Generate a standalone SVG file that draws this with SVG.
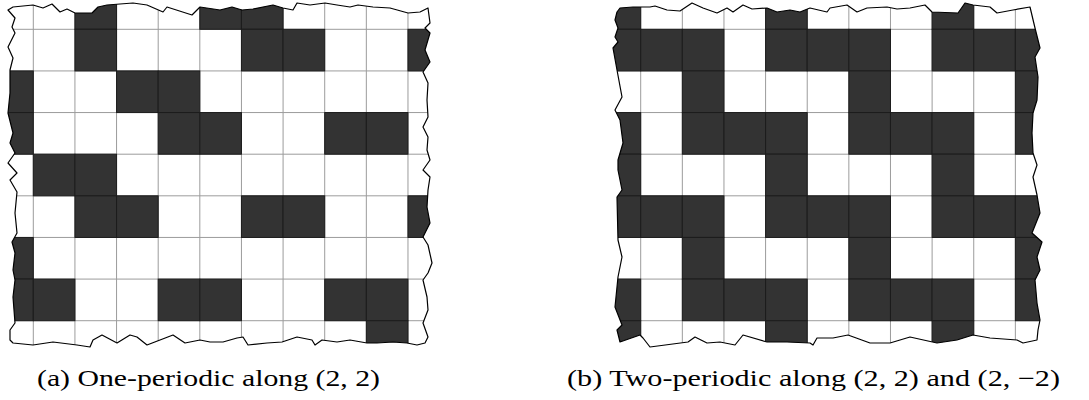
<svg xmlns="http://www.w3.org/2000/svg" xmlns:xlink="http://www.w3.org/1999/xlink" width="1089" height="400" viewBox="0 0 1089 400">
<style>
.d{fill:#333333;stroke:#1c1c1c;stroke-width:1}
.gl{fill:none;stroke:#9c9c9c;stroke-width:1}
.edge{fill:none;stroke:#000;stroke-width:1.2;stroke-linejoin:round}
</style>
<defs>
<path id="gridlines" d="M0,-45V335M41.63,-45V335M83.26,-45V335M124.89,-45V335M166.52,-45V335M208.15,-45V335M249.78,-45V335M291.41,-45V335M333.04,-45V335M374.67,-45V335M-45,0H420M-45,41.63H420M-45,83.26H420M-45,124.89H420M-45,166.52H420M-45,208.15H420M-45,249.78H420M-45,291.41H420"/>
<clipPath id="clipA"><polygon id="shapeA" points="8,10 13,7 33,5 43,8 52,4 60,12 67,9 75,13 92,13 98,7 107,5 133,3 147,5 163,12 167,7 192,15 200,7 220,10 232,7 242,10 253,9 273,5 283,8 293,10 297,3 310,5 325,3 337,5 350,7 358,5 373,7 390,8 408,13 420,12 428,8 430,23 425,28 430,33 425,50 430,62 423,72 428,83 427,100 428,117 423,127 428,137 427,150 430,160 423,170 430,177 428,190 427,207 430,223 423,237 428,245 432,263 428,273 423,280 427,297 428,310 423,323 428,337 425,343 417,345 407,343 393,342 377,343 367,343 350,340 337,342 322,340 315,345 312,340 297,337 282,342 267,343 248,345 243,337 237,338 223,342 210,342 200,340 185,343 173,335 160,340 147,345 137,337 130,335 117,343 102,335 93,340 90,347 77,345 53,342 33,345 13,343 10,340 10,330 15,323 14,310 13,297 15,280 13,270 15,253 12,242 17,233 15,213 17,192 10,180 17,173 8,163 15,153 10,143 13,133 8,113 10,93 10,70 13,58 8,47 15,33 12,27 15,18"/></clipPath>
<clipPath id="clipB"><polygon id="shapeB" points="617,12 620,8 633,7 650,7 655,6 667,10 680,11 692,3 703,8 717,13 727,8 733,12 743,5 752,9 767,8 777,12 790,10 800,12 810,8 827,12 830,8 847,5 857,12 867,8 887,7 897,9 910,8 925,5 932,12 958,13 965,3 973,5 990,7 997,13 1013,10 1030,7 1035,28 1040,48 1035,57 1038,77 1037,100 1033,113 1032,133 1033,153 1037,165 1033,177 1037,195 1040,213 1032,233 1042,242 1037,257 1040,270 1035,280 1037,303 1040,320 1038,330 1037,340 1023,343 1017,340 990,338 973,335 957,340 937,343 910,337 890,343 870,343 848,335 833,338 817,338 813,345 810,343 787,342 767,342 743,335 735,345 720,342 707,343 695,337 688,342 650,347 643,338 640,335 620,342 617,330 622,325 615,307 618,277 622,257 618,240 617,197 622,190 618,170 618,160 623,143 620,120 615,110 622,97 617,70 613,48 618,42 615,37 618,28 615,20"/></clipPath>
</defs>
<rect width="1089" height="400" fill="#fff"/>

<g id="grid-a">
<g clip-path="url(#clipA)">
<g transform="translate(33.3 29.3)">
<use xlink:href="#gridlines" href="#gridlines" class="gl"/>
<rect class="d" x="41.63" y="-41.63" width="41.63" height="41.63"/>
<rect class="d" x="166.52" y="-41.63" width="41.63" height="41.63"/>
<rect class="d" x="208.15" y="-41.63" width="41.63" height="41.63"/>
<rect class="d" x="41.63" y="0" width="41.63" height="41.63"/>
<rect class="d" x="208.15" y="0" width="41.63" height="41.63"/>
<rect class="d" x="249.78" y="0" width="41.63" height="41.63"/>
<rect class="d" x="374.67" y="0" width="41.63" height="41.63"/>
<rect class="d" x="-41.63" y="41.63" width="41.63" height="41.63"/>
<rect class="d" x="83.26" y="41.63" width="41.63" height="41.63"/>
<rect class="d" x="124.89" y="41.63" width="41.63" height="41.63"/>
<rect class="d" x="-41.63" y="83.26" width="41.63" height="41.63"/>
<rect class="d" x="124.89" y="83.26" width="41.63" height="41.63"/>
<rect class="d" x="166.52" y="83.26" width="41.63" height="41.63"/>
<rect class="d" x="291.41" y="83.26" width="41.63" height="41.63"/>
<rect class="d" x="333.04" y="83.26" width="41.63" height="41.63"/>
<rect class="d" x="0" y="124.89" width="41.63" height="41.63"/>
<rect class="d" x="41.63" y="124.89" width="41.63" height="41.63"/>
<rect class="d" x="41.63" y="166.52" width="41.63" height="41.63"/>
<rect class="d" x="83.26" y="166.52" width="41.63" height="41.63"/>
<rect class="d" x="208.15" y="166.52" width="41.63" height="41.63"/>
<rect class="d" x="249.78" y="166.52" width="41.63" height="41.63"/>
<rect class="d" x="374.67" y="166.52" width="41.63" height="41.63"/>
<rect class="d" x="-41.63" y="208.15" width="41.63" height="41.63"/>
<rect class="d" x="-41.63" y="249.78" width="41.63" height="41.63"/>
<rect class="d" x="0" y="249.78" width="41.63" height="41.63"/>
<rect class="d" x="124.89" y="249.78" width="41.63" height="41.63"/>
<rect class="d" x="166.52" y="249.78" width="41.63" height="41.63"/>
<rect class="d" x="291.41" y="249.78" width="41.63" height="41.63"/>
<rect class="d" x="333.04" y="249.78" width="41.63" height="41.63"/>
<rect class="d" x="333.04" y="291.41" width="41.63" height="41.63"/>
</g>
</g>
<use xlink:href="#shapeA" href="#shapeA" class="edge"/>
</g>

<g id="grid-b">
<g clip-path="url(#clipB)">
<g transform="translate(640.7 29.3)">
<use xlink:href="#gridlines" href="#gridlines" class="gl"/>
<rect class="d" x="-41.63" y="-41.63" width="41.63" height="41.63"/>
<rect class="d" x="124.89" y="-41.63" width="41.63" height="41.63"/>
<rect class="d" x="291.41" y="-41.63" width="41.63" height="41.63"/>
<rect class="d" x="-41.63" y="0" width="41.63" height="41.63"/>
<rect class="d" x="0" y="0" width="41.63" height="41.63"/>
<rect class="d" x="41.63" y="0" width="41.63" height="41.63"/>
<rect class="d" x="124.89" y="0" width="41.63" height="41.63"/>
<rect class="d" x="166.52" y="0" width="41.63" height="41.63"/>
<rect class="d" x="208.15" y="0" width="41.63" height="41.63"/>
<rect class="d" x="291.41" y="0" width="41.63" height="41.63"/>
<rect class="d" x="333.04" y="0" width="41.63" height="41.63"/>
<rect class="d" x="374.67" y="0" width="41.63" height="41.63"/>
<rect class="d" x="41.63" y="41.63" width="41.63" height="41.63"/>
<rect class="d" x="208.15" y="41.63" width="41.63" height="41.63"/>
<rect class="d" x="374.67" y="41.63" width="41.63" height="41.63"/>
<rect class="d" x="-41.63" y="83.26" width="41.63" height="41.63"/>
<rect class="d" x="41.63" y="83.26" width="41.63" height="41.63"/>
<rect class="d" x="83.26" y="83.26" width="41.63" height="41.63"/>
<rect class="d" x="124.89" y="83.26" width="41.63" height="41.63"/>
<rect class="d" x="208.15" y="83.26" width="41.63" height="41.63"/>
<rect class="d" x="249.78" y="83.26" width="41.63" height="41.63"/>
<rect class="d" x="291.41" y="83.26" width="41.63" height="41.63"/>
<rect class="d" x="374.67" y="83.26" width="41.63" height="41.63"/>
<rect class="d" x="-41.63" y="124.89" width="41.63" height="41.63"/>
<rect class="d" x="124.89" y="124.89" width="41.63" height="41.63"/>
<rect class="d" x="291.41" y="124.89" width="41.63" height="41.63"/>
<rect class="d" x="-41.63" y="166.52" width="41.63" height="41.63"/>
<rect class="d" x="0" y="166.52" width="41.63" height="41.63"/>
<rect class="d" x="41.63" y="166.52" width="41.63" height="41.63"/>
<rect class="d" x="124.89" y="166.52" width="41.63" height="41.63"/>
<rect class="d" x="166.52" y="166.52" width="41.63" height="41.63"/>
<rect class="d" x="208.15" y="166.52" width="41.63" height="41.63"/>
<rect class="d" x="291.41" y="166.52" width="41.63" height="41.63"/>
<rect class="d" x="333.04" y="166.52" width="41.63" height="41.63"/>
<rect class="d" x="374.67" y="166.52" width="41.63" height="41.63"/>
<rect class="d" x="41.63" y="208.15" width="41.63" height="41.63"/>
<rect class="d" x="208.15" y="208.15" width="41.63" height="41.63"/>
<rect class="d" x="374.67" y="208.15" width="41.63" height="41.63"/>
<rect class="d" x="-41.63" y="249.78" width="41.63" height="41.63"/>
<rect class="d" x="41.63" y="249.78" width="41.63" height="41.63"/>
<rect class="d" x="83.26" y="249.78" width="41.63" height="41.63"/>
<rect class="d" x="124.89" y="249.78" width="41.63" height="41.63"/>
<rect class="d" x="208.15" y="249.78" width="41.63" height="41.63"/>
<rect class="d" x="249.78" y="249.78" width="41.63" height="41.63"/>
<rect class="d" x="291.41" y="249.78" width="41.63" height="41.63"/>
<rect class="d" x="374.67" y="249.78" width="41.63" height="41.63"/>
<rect class="d" x="-41.63" y="291.41" width="41.63" height="41.63"/>
<rect class="d" x="124.89" y="291.41" width="41.63" height="41.63"/>
<rect class="d" x="291.41" y="291.41" width="41.63" height="41.63"/>
</g>
</g>
<use xlink:href="#shapeB" href="#shapeB" class="edge"/>
</g>

<g id="captions" font-family="'Liberation Serif', 'Times New Roman', serif" font-size="23.5" fill="#000">
<text id="caption-a" x="37" y="386" textLength="343" lengthAdjust="spacingAndGlyphs">(a) One-periodic along (2, 2)</text>
<text id="caption-b" x="567" y="386" textLength="493" lengthAdjust="spacingAndGlyphs">(b) Two-periodic along (2, 2) and (2, −2)</text>
</g>
</svg>
